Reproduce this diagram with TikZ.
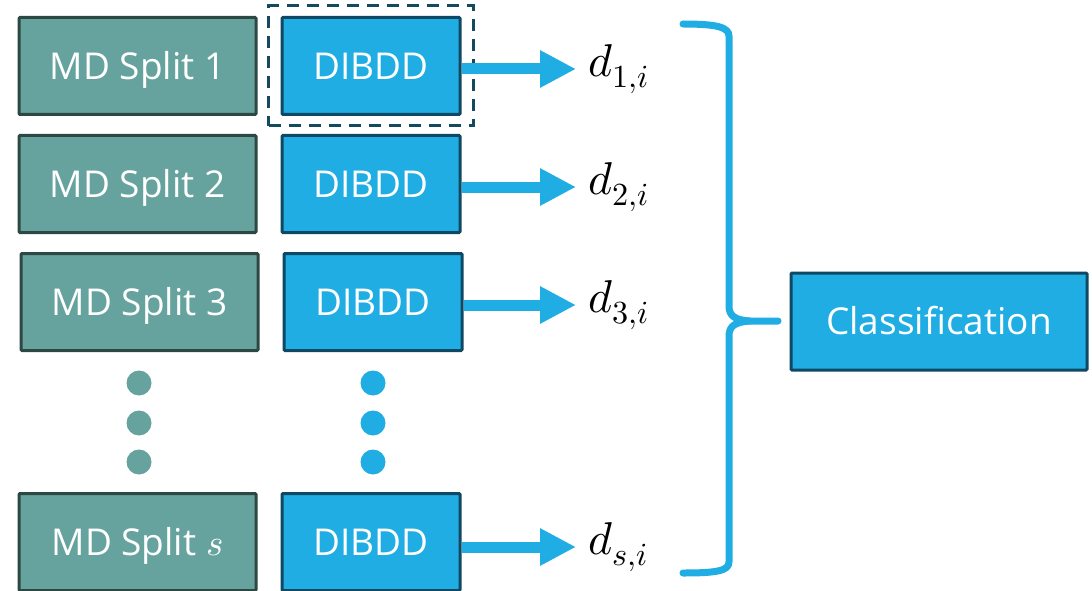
\documentclass[tikz,border=0pt]{standalone}
\usepackage{fontspec}
\usepackage{unicode-math}
\setmainfont{Open Sans}
\setmathfont{Latin Modern Math}
\usetikzlibrary{arrows.meta,fit}
\definecolor{tealfill}{HTML}{66A39E}
\definecolor{tealline}{HTML}{2C4744}
\definecolor{bluefill}{HTML}{1FADE3}
\definecolor{blueline}{HTML}{0E4862}
\definecolor{dashcol}{HTML}{134A5E}
\tikzset{
  boxtext/.style={text=white, font=\fontsize{37}{40}\selectfont, inner sep=0pt, text height=26.4pt, text depth=0pt},
  mdbox/.style={boxtext, draw=tealline, fill=tealfill, line width=3pt, minimum width=237pt, minimum height=97pt, rounded corners=1pt},
  dibbox/.style={boxtext, draw=blueline, fill=bluefill, line width=3pt, minimum width=178pt, minimum height=97pt, rounded corners=1pt},
  clsbox/.style={dibbox, minimum width=296pt},
  dlabel/.style={anchor=west, inner xsep=12pt, inner ysep=0pt, font=\fontsize{46}{50}\selectfont},
  arr/.style={draw=bluefill, line width=11pt, -{Triangle[length=36pt,width=35pt]}},
  dashbox/.style={draw=dashcol, line width=3pt, dash pattern=on 12pt off 8pt, inner xsep=12pt, inner ysep=10pt},
  tealdot/.style={circle, fill=tealfill, minimum size=25pt, inner sep=0pt},
  bluedot/.style={circle, fill=bluefill, minimum size=25pt, inner sep=0pt},
  bracestyle/.style={draw=bluefill, line width=7pt, line cap=round, line join=round}
}
\begin{document}
\begin{tikzpicture}[x=1pt,y=-1pt]
\useasboundingbox (0,0) rectangle (1092,591);
% left column
\node[mdbox] (md1) at (137.5,66) {MD Split 1};
\node[mdbox] (md2) at (137.5,184) {MD Split 2};
\node[mdbox] (md3) at (139.5,302) {MD Split 3};
\node[mdbox] (mds) at (137.5,542) {MD Split $s$};
% DIBDD column
\node[dibbox] (dib1) at (371,66) {DIBDD};
\node[dibbox] (dib2) at (371,184) {DIBDD};
\node[dibbox] (dib3) at (373,302) {DIBDD};
\node[dibbox] (dibs) at (371,542) {DIBDD};
\node[dashbox, fit=(dib1)] (dash1) {};
% dots
\node[tealdot] (td1) at (139,383) {};
\node[tealdot] (td2) at (139,423) {};
\node[tealdot] (td3) at (139,462) {};
\node[bluedot] (bd1) at (373,383) {};
\node[bluedot] (bd2) at (373,423) {};
\node[bluedot] (bd3) at (373,462) {};
% labels
\node[dlabel] (d1) at (576,69) {$d_{1,i}$};
\node[dlabel] (d2) at (576,187) {$d_{2,i}$};
\node[dlabel] (d3) at (576,305) {$d_{3,i}$};
\node[dlabel] (ds) at (576,547) {$d_{s,i}$};
% arrows
\draw[arr] (dib1.east |- d1.west) -- (d1.west);
\draw[arr] (dib2.east |- d2.west) -- (d2.west);
\draw[arr] (dib3.east |- d3.west) -- (d3.west);
\draw[arr] (dibs.east |- ds.west) -- (ds.west);
% brace
\coordinate (btop) at (683,24);
\coordinate (bbot) at (683,573);
\coordinate (btip) at (778,321);
\draw[bracestyle] (btop) .. controls (716,24) and (729,27) .. (729,36) -- (729,306)
  .. controls (729,316) and (735,320) .. (750,321) -- (btip);
\draw[bracestyle] (750,321) .. controls (735,322) and (729,326) .. (729,336) -- (729,562)
  .. controls (729,571) and (716,573) .. (bbot);
% classification
\node[clsbox] (cls) at (939,321.5) {Classification};
\end{tikzpicture}
\end{document}
